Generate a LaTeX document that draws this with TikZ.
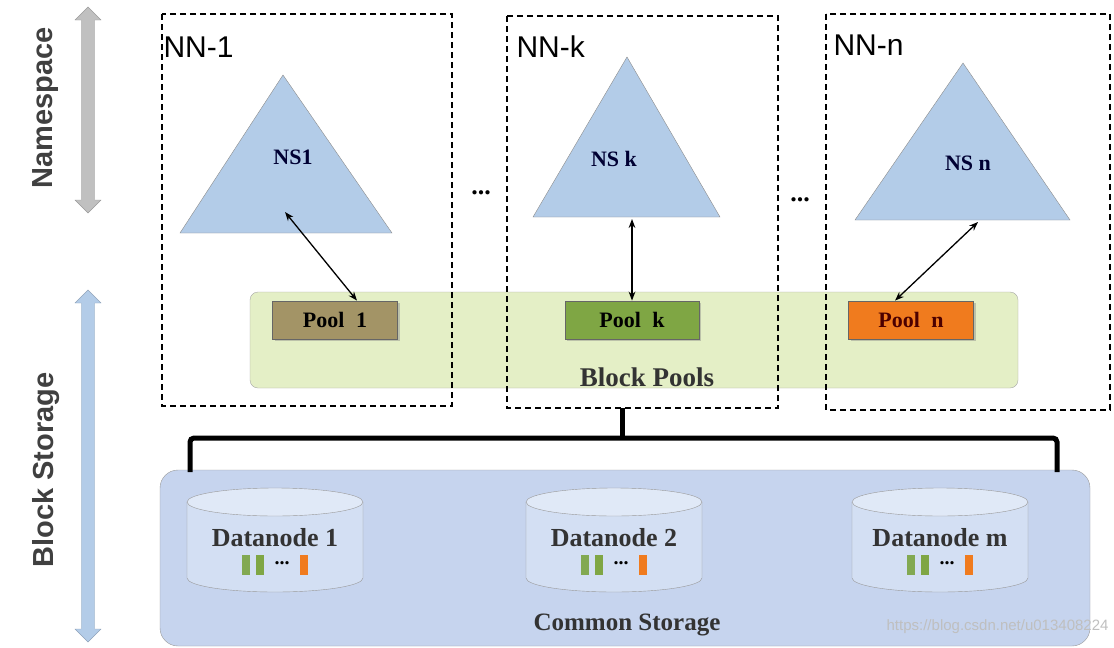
\documentclass[tikz,border=0pt]{standalone}
\usepackage{fontspec}
\setmainfont{Liberation Serif}
\newfontfamily\sansf{Liberation Sans}
\usetikzlibrary{arrows.meta,shapes.arrows,shadows}
\definecolor{triblue}{HTML}{B3CCE8}
\definecolor{arrgray}{HTML}{C0C0C0}
\definecolor{poolbg}{HTML}{E4EFC6}
\definecolor{storebg}{HTML}{C6D4EE}
\definecolor{cylbg}{HTML}{D3DFF3}
\definecolor{pbrown}{HTML}{A39466}
\definecolor{pgreen}{HTML}{7FA644}
\definecolor{porange}{HTML}{F07B1E}
\tikzset{
  nnbox/.style={draw,line width=1.6pt,dash pattern=on 6pt off 4pt},
  nntitle/.style={anchor=west,font=\sansf\fontsize{30}{30}\selectfont},
  nstext/.style={font=\bfseries\fontsize{22}{22}\selectfont,text=black!80!blue},
  pool/.style={draw=black!60,line width=.8pt,minimum width=125pt,minimum height=38pt,font=\bfseries\fontsize{22}{22}\selectfont,drop shadow={opacity=.4}},
  link/.style={line width=1.3pt,{Stealth[length=9pt]}-{Stealth[length=9pt]}},
  side/.style={double arrow,rotate=90,minimum width=26pt,double arrow head extend=3pt,inner sep=3pt,draw=#1!80!black,fill=#1},
  sidetext/.style={rotate=90,font=\sansf\bfseries\fontsize{29}{29}\selectfont,text=black!75}
}
\begin{document}
\begin{tikzpicture}[x=1pt,y=-1pt]
  \useasboundingbox (0,0) rectangle (1114,648);

  % side arrows
  \node[side=arrgray,minimum height=206pt] (nsarrow) at (88,110) {};
  \node[sidetext] (nslabel) at (46,108) {Namespace};
  \node[side=triblue,minimum height=352pt] (bsarrow) at (88,466) {};
  \node[sidetext] (bslabel) at (46,470) {Block Storage};

  % block pools
  \node[draw=black!35,fill=poolbg,rounded corners=8pt,minimum width=768pt,minimum height=96pt] (pools) at (634,340) {};
  \node[font=\bfseries\fontsize{27}{27}\selectfont,text=black!80] (poolslabel) at (647,377) {Block Pools};

  % namenode boxes
  \draw[nnbox] (162,14) rectangle (452,406);
  \draw[nnbox] (507,16) rectangle (778,408);
  \draw[nnbox] (826,14) rectangle (1110,410);
  \node[nntitle] (t1) at (160,47) {NN-1};
  \node[nntitle] (tk) at (513,47) {NN-k};
  \node[nntitle] (tn) at (830,45) {NN-n};

  % namespaces
  \draw[draw=black!45,fill=triblue] (283,75) -- (392,233) -- (180,233) -- cycle;
  \draw[draw=black!45,fill=triblue] (627,57) -- (720,217) -- (533,217) -- cycle;
  \draw[draw=black!45,fill=triblue] (963,63) -- (1070,220) -- (855,220) -- cycle;
  \node[nstext] (ns1) at (293,157) {NS1};
  \node[nstext] (nsk) at (614,159) {NS k};
  \node[nstext] (nsn) at (968,163) {NS n};
  \node[font=\bfseries\fontsize{26}{26}\selectfont] (dots1) at (481,193) {...};
  \node[font=\bfseries\fontsize{26}{26}\selectfont] (dots2) at (800,200) {...};

  % pools
  \node[pool,fill=pbrown] (p1) at (335,320) {Pool\; 1};
  \node[pool,fill=pgreen,minimum width=134pt] (pk) at (632,320) {Pool\; k};
  \node[pool,fill=porange,text=black!70!red] (pn) at (911,320) {Pool\; n};
  \coordinate (a1) at (285,212);
  \coordinate (ak) at (632,219);
  \coordinate (an) at (978,222);
  \draw[link] (a1) -- ([xshift=22pt]p1.north);
  \draw[link] (ak) -- (pk.north);
  \draw[link] (an) -- ([xshift=-16pt]pn.north);

  % common storage
  \node[draw=black!40,fill=storebg,rounded corners=18pt,minimum width=930pt,minimum height=176pt] (store) at (625,558) {};
  \node[font=\bfseries\fontsize{25}{25}\selectfont,text=black!80] (storelabel) at (627,625) {Common Storage};
  \coordinate (bt) at (622,408);
  \coordinate (bl) at (190,472);
  \coordinate (br) at (1057,472);
  \draw[line width=5pt,rounded corners=4pt] (bl) -- (190,438) -- (br |- 0,438) -- (br);
  \draw[line width=5pt] (bt) -- (622,438);

  % datanodes
  \foreach \x/\n in {275/Datanode 1,614/Datanode 2,940/Datanode m}{
    \draw[draw=black!40,fill=cylbg] (\x-88,502) -- (\x-88,578) arc[start angle=180,end angle=0,x radius=88,y radius=14] -- (\x+88,502);
    \draw[draw=black!40,fill=cylbg!70!white] (\x,502) ellipse[x radius=88,y radius=14];
    \node[font=\bfseries\fontsize{26}{26}\selectfont,text=black!80] at (\x,538) {\n};
    \fill[pbrown!80!green] (\x-33,555) rectangle (\x-25,575);
    \fill[pgreen] (\x-19,555) rectangle (\x-11,575);
    \node[font=\bfseries\fontsize{20}{20}\selectfont] at (\x+7,563) {...};
    \fill[porange] (\x+25,555) rectangle (\x+33,575);
  }

  \node[anchor=east,font=\sansf\fontsize{15}{15}\selectfont,text=black!25] (mark) at (1112,627) {https://blog.csdn.net/u013408224};
\end{tikzpicture}
\end{document}
